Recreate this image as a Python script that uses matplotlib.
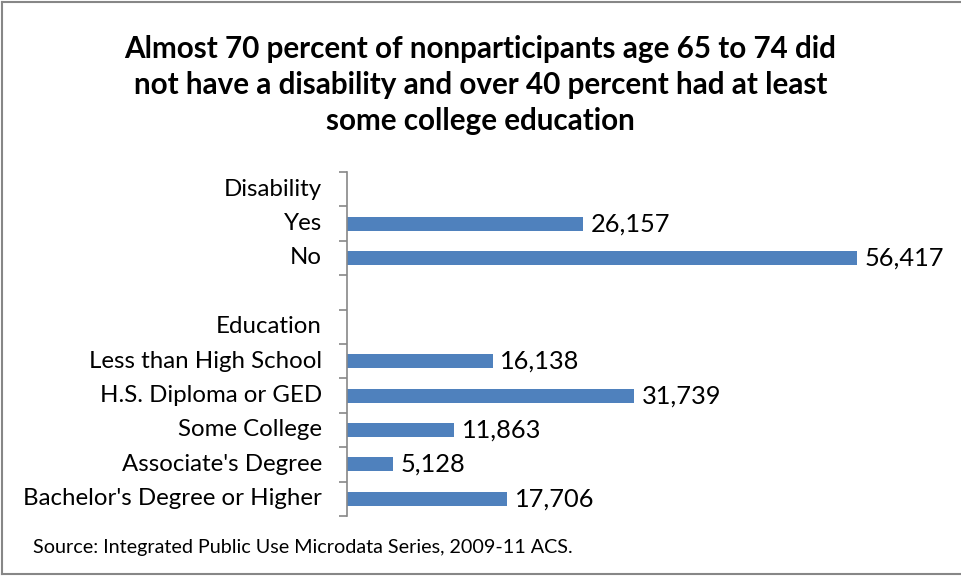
import matplotlib.pyplot as plt
from matplotlib.lines import Line2D

plt.rcParams['font.family'] = ['Lato', 'DejaVu Sans']

# categories top to bottom (blank ones are header/spacer rows)
labels = ['Disability', 'Yes', 'No', '', 'Education',
          'Less than High School', 'H.S. Diploma or GED', 'Some College',
          "Associate's Degree", "Bachelor's Degree or Higher"]
values = [None, 26157, 56417, None, None, 16138, 31739, 11863, 5128, 17706]

title = ('Almost 70 percent of nonparticipants age 65 to 74 did\n'
         'not have a disability and over 40 percent had at least\n'
         'some college education')
source = 'Source: Integrated Public Use Microdata Series, 2009-11 ACS.'

bar_color = '#4F81BD'
grey = '#878787'

fig = plt.figure(figsize=(9.61, 5.76), dpi=100)
ax = fig.add_axes([347 / 961, 1 - 516 / 576, 560 / 961, 344 / 576])

n = len(labels)
ypos = list(range(n))
for y, v in zip(ypos, values):
    if v is None:
        continue
    ax.barh(y, v, height=0.41, color=bar_color)
    ax.text(v + 850, y, f'{v:,}', va='center', ha='left', fontsize=18.3)

ax.set_ylim(n - 0.5, -0.5)
ax.set_xlim(0, 62000)

# category labels centred in rows, ticks at row boundaries
ax.set_yticks([i - 0.5 for i in range(n + 1)])
ax.set_yticklabels([])
ax.tick_params(axis='y', length=6, color=grey, width=1.2, direction='out')
for y, lab in zip(ypos, labels):
    ax.text(-0.045, y, lab, transform=ax.get_yaxis_transform(),
            ha='right', va='center', fontsize=17.3)

ax.set_xticks([])
for s in ['top', 'right', 'bottom']:
    ax.spines[s].set_visible(False)
ax.spines['left'].set_color(grey)
ax.spines['left'].set_linewidth(1.2)

fig.text(0.5, 1 - 85 / 576, title, ha='center', va='center',
         fontsize=21.3, fontweight='bold', linespacing=1.36)
fig.text(33 / 961, 1 - 548 / 576, source, ha='left', va='center', fontsize=14.2)

# outer frame (left, top, bottom)
for xs, ys in [([2 / 961, 2 / 961], [0.003, 0.997]),
               ([2 / 961, 1], [0.997, 0.997]),
               ([2 / 961, 1], [0.004, 0.004])]:
    fig.add_artist(Line2D(xs, ys, color=grey, lw=1.5, transform=fig.transFigure))

fig.savefig('out.png', dpi=100)
